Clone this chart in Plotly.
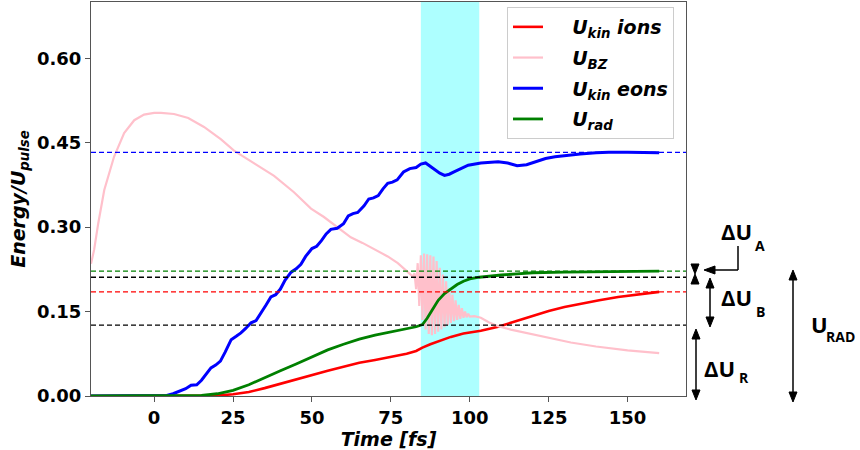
import plotly.graph_objects as go

# ---------------- data ----------------
t_ions = [-20, 15, 20, 25, 30, 35, 40, 45, 50, 55, 60, 65, 70, 75, 80, 83, 85, 87.5, 90,
          94, 98, 103.5, 109, 115, 120, 125, 130, 136, 141, 147, 153, 160]
u_ions = [0, 0, 0.001, 0.003, 0.007, 0.014, 0.022, 0.030, 0.038, 0.045, 0.052, 0.059, 0.064,
          0.070, 0.075, 0.080, 0.086, 0.092, 0.097, 0.105, 0.111, 0.116, 0.123, 0.134, 0.143,
          0.151, 0.158, 0.165, 0.170, 0.176, 0.180, 0.185]

t_bz = [-20, -19, -17.7, -15.8, -12.7, -9.5, -6.3, -3.2, 0, 2.2, 6.3, 10.8, 15.8, 21.2, 25.3,
        31.6, 38, 44.3, 49.7, 53.8, 58, 62.3, 66, 70.9, 74, 77.2, 80, 82,
        82.5, 83.0, 83.5, 84.0, 84.5, 85.0, 85.5, 86.0, 86.5, 87.0, 87.5, 88.0, 88.5, 89.0,
        89.5, 90.0, 90.5, 91.0, 91.5, 92.0, 92.5, 93.0, 93.5, 94.0, 94.5, 95.0, 95.5, 96.0,
        96.5, 97.0, 97.5, 98.0, 98.5, 99.0, 99.5, 100.0,
        101.5, 103.5, 106, 109, 113, 118, 125, 132, 140, 150, 160]
u_bz = [0.235, 0.26, 0.307, 0.366, 0.425, 0.467, 0.49, 0.500, 0.503, 0.503, 0.501, 0.494,
        0.478, 0.456, 0.436, 0.414, 0.391, 0.362, 0.333, 0.318, 0.300, 0.282, 0.272, 0.258,
        0.248, 0.236, 0.222, 0.212,
        0.218, 0.190, 0.236, 0.160, 0.250, 0.135, 0.253, 0.118, 0.252, 0.110, 0.250, 0.108,
        0.248, 0.110, 0.240, 0.114, 0.228, 0.118, 0.216, 0.122, 0.204, 0.126, 0.192, 0.130,
        0.180, 0.133, 0.170, 0.135, 0.162, 0.137, 0.156, 0.139, 0.150, 0.140, 0.146, 0.141,
        0.142, 0.139, 0.131, 0.124, 0.118, 0.112, 0.103, 0.095, 0.088, 0.081, 0.076]

t_eons = [-20, 0, 4, 6, 8, 10, 11.7, 13.5, 15, 16.5, 18, 19.5, 21, 22.5, 24.4, 26, 27.5, 29,
          30.7, 32.3, 34, 35.5, 37, 38.5, 40, 41.5, 43.4, 45, 46.5, 48, 50, 51.5, 53, 54.5,
          56, 58, 60, 61.5, 63, 64.5, 66.5, 68, 69.5, 71, 72.5, 74, 75.5, 77, 79, 81, 83,
          84.5, 86, 87.5, 89, 90.5, 92, 93.5, 95, 97, 99.5, 103.5, 109, 112, 115, 118, 120,
          124, 127, 131, 135, 140, 144, 150, 155, 160]
u_eons = [0, 0, 0.001, 0.004, 0.008, 0.013, 0.019, 0.020, 0.028, 0.038, 0.050, 0.055, 0.062,
          0.078, 0.100, 0.106, 0.112, 0.120, 0.130, 0.134, 0.148, 0.162, 0.176, 0.180, 0.190,
          0.206, 0.220, 0.226, 0.234, 0.248, 0.262, 0.266, 0.276, 0.288, 0.296, 0.298, 0.306,
          0.320, 0.324, 0.326, 0.338, 0.350, 0.352, 0.356, 0.368, 0.378, 0.380, 0.384, 0.398,
          0.404, 0.406, 0.412, 0.414, 0.408, 0.402, 0.396, 0.392, 0.394, 0.398, 0.404, 0.410,
          0.414, 0.416, 0.414, 0.409, 0.411, 0.415, 0.422, 0.425, 0.428, 0.430, 0.432, 0.433,
          0.433, 0.432, 0.432]

t_rad = [-20, 10, 15, 20, 25, 30, 35, 40, 45, 50, 55, 60, 65, 70, 75, 80, 83, 85, 86.5, 88,
         90, 92, 94, 96, 98, 100, 103, 106, 110, 115, 120, 130, 140, 150, 160]
u_rad = [0, 0, 0.001, 0.004, 0.010, 0.020, 0.033, 0.045, 0.057, 0.070, 0.082, 0.092, 0.101,
         0.108, 0.114, 0.119, 0.123, 0.127, 0.138, 0.152, 0.170, 0.182, 0.190, 0.198, 0.204,
         0.208, 0.211, 0.213, 0.215, 0.217, 0.219, 0.220, 0.221, 0.222, 0.222]

# reference levels (value, colour)
level_values = [0.433, 0.222, 0.211, 0.185, 0.126]
level_colors = ["blue", "green", "black", "red", "black"]

# shaded time window
window = [84.5, 103]

x_ticks = [0, 25, 50, 75, 100, 125, 150]
y_ticks = [0.00, 0.15, 0.30, 0.45, 0.60]
y_tick_labels = ["0.00", "0.15", "0.30", "0.45", "0.60"]

# ---------------- figure ----------------
W, H = 860, 450
ML, MR, MT, MB = 91, 174, 2, 54
PW, PH = W - ML - MR, H - MT - MB


def px(x):
    return (x - ML) / PW


def py(y):
    return (H - MB - y) / PH


fig = go.Figure()

PAD = "\u00a0" * 4
series = [
    (t_ions, u_ions, "red", 2.6, "<b><i>U<sub>kin</sub> ions</i></b>"),
    (t_bz, u_bz, "pink", 2.2, "<b><i>U<sub>BZ</sub></i></b>"),
    (t_eons, u_eons, "blue", 3.0, "<b><i>U<sub>kin</sub> eons</i></b>"),
    (t_rad, u_rad, "green", 2.8, "<b><i>U<sub>rad</sub></i></b>"),
]
for i, (tx, uy, col, lw, name) in enumerate(series):
    fig.add_trace(go.Scatter(x=tx, y=uy, mode="lines", name=PAD + name,
                             legendgroup=f"g{i}",
                             line=dict(color=col, width=lw)))

shapes = []
shapes.append(dict(type="rect", xref="x", yref="paper", x0=window[0], x1=window[1],
                   y0=0, y1=1, fillcolor="rgba(0,255,255,0.32)", line=dict(width=0),
                   layer="below"))
for v, c in zip(level_values, level_colors):
    shapes.append(dict(type="line", xref="paper", yref="y", x0=0, x1=1, y0=v, y1=v,
                       line=dict(color=c, width=1.3, dash="5px,3px"), layer="above"))

# bracket arrows on the right
BLK = dict(color="black", width=1.5)


def seg(x0, y0, x1, y1):
    shapes.append(dict(type="line", xref="paper", yref="paper",
                       x0=px(x0), y0=py(y0), x1=px(x1), y1=py(y1), line=BLK))


def tri(pts):
    p = "M " + " L ".join(f"{px(a):.5f},{py(b):.5f}" for a, b in pts) + " Z"
    shapes.append(dict(type="path", xref="paper", yref="paper", path=p,
                       fillcolor="black", line=dict(color="black", width=1)))


def vdouble(x, ytop, ybot, hl=10, hw=4):
    seg(x, ytop + hl, x, ybot - hl)
    tri([(x, ytop), (x - hw, ytop + hl), (x + hw, ytop + hl)])
    tri([(x, ybot), (x - hw, ybot - hl), (x + hw, ybot - hl)])


# hourglass marker for the small gap
tri([(695, 274), (691, 264), (699, 264)])
tri([(695, 274), (691, 284), (699, 284)])
# elbow pointer to the hourglass
seg(738, 246, 738, 270)
seg(738, 270, 714, 270)
tri([(704, 270), (715, 266), (715, 274)])

vdouble(710, 278, 327)
vdouble(696, 329, 400)
vdouble(793, 270, 402)

annotations = []
FONT_BIG = dict(family="Open Sans", size=22, color="black", weight="bold")
FONT_SUB = dict(family="Open Sans", size=14, color="black", weight="bold")


def label(text, x, yc, font):
    annotations.append(dict(text=text, xref="paper", yref="paper", x=px(x), y=py(yc),
                            xanchor="left", yanchor="middle", showarrow=False, font=font,
                            borderpad=0))


label("ΔU", 720, 231, FONT_BIG)
label("A", 754, 245, FONT_SUB)
label("ΔU", 720, 297, FONT_BIG)
label("B", 755, 311, FONT_SUB)
label("ΔU", 703, 368, FONT_BIG)
label("R", 738, 377, FONT_SUB)
label("U", 810, 324, FONT_BIG)
label("RAD", 825, 336, FONT_SUB)

AX = dict(showline=True, linecolor="#555555", linewidth=1, mirror=True,
          ticks="outside", ticklen=5, tickcolor="#555555", showgrid=False, zeroline=False,
          tickfont=dict(family="DejaVu Sans", size=18, color="black", weight="bold"))

fig.update_layout(
    width=W, height=H,
    margin=dict(l=ML, r=MR, t=MT, b=MB),
    plot_bgcolor="white", paper_bgcolor="white",
    shapes=shapes, annotations=annotations,
    xaxis=dict(range=[-20, 168.5], tickvals=x_ticks,
               title=dict(text="<b><i>Time [fs]</i></b>", standoff=0,
                          font=dict(family="DejaVu Sans", size=19, color="black")),
               **AX),
    yaxis=dict(range=[0, 0.70], tickvals=y_ticks, ticktext=y_tick_labels,
               title=dict(text="<b><i>Energy/U<sub>pulse</sub></i></b>", standoff=6,
                          font=dict(family="DejaVu Sans", size=19, color="black")),
               **AX),
    legend=dict(x=px(507), y=py(7), xanchor="left", yanchor="top",
                bgcolor="rgba(255,255,255,0.85)", bordercolor="#cccccc", borderwidth=1,
                tracegroupgap=3,
                font=dict(family="DejaVu Sans", size=19, color="black")),
    showlegend=True,
)

fig.write_html("out.html")
